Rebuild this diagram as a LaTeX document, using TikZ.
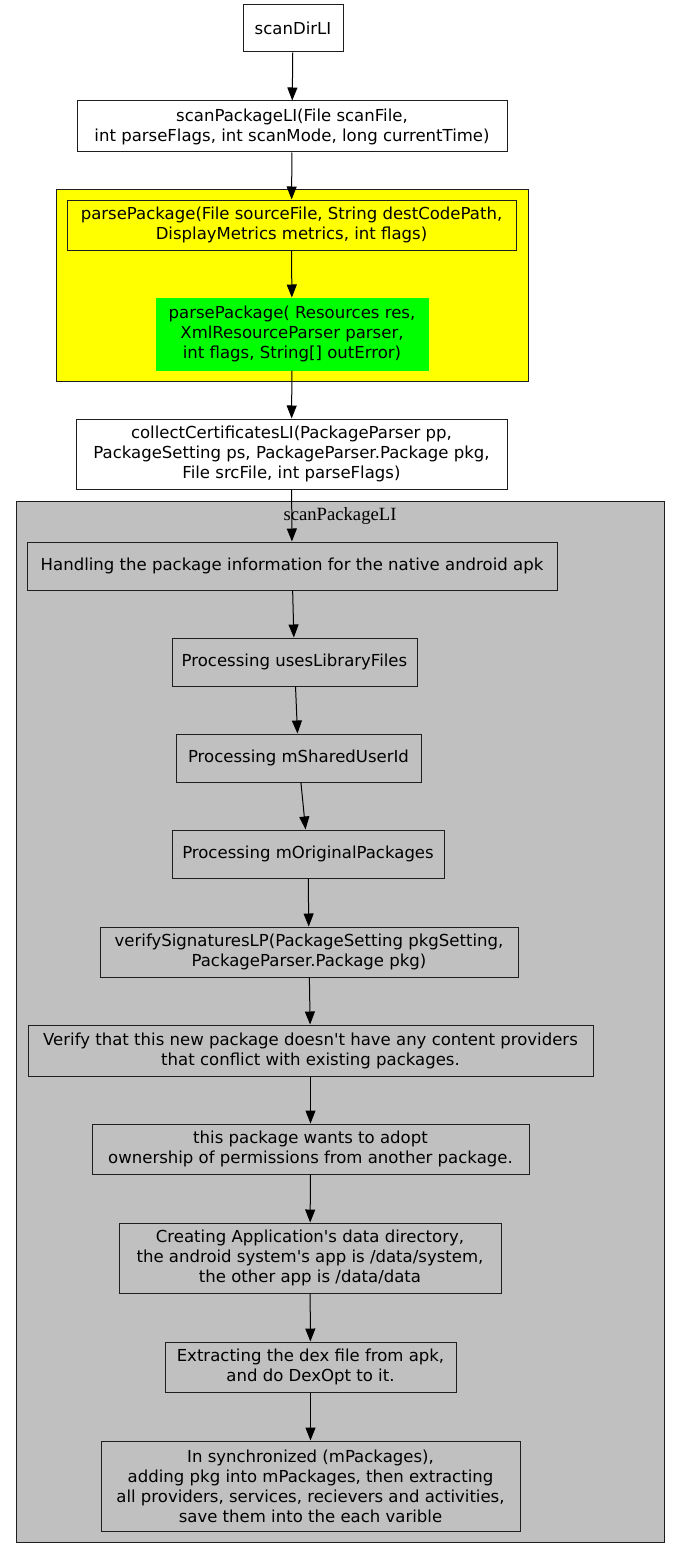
\documentclass[tikz,border=0pt]{standalone}
\usepackage{fontspec}
\setmainfont{DejaVu Sans}[Ligatures=TeXOff]
\newfontfamily\clusterfont{Liberation Serif}
\usetikzlibrary{arrows.meta}
\definecolor{yellow1}	{RGB}{255,255,0}
\definecolor{green1}	{RGB}{0,255,0}
\definecolor{grey1}		{RGB}{192,192,192}
\definecolor{line1}		{RGB}{30,30,30}
\tikzstyle{call}=	[draw=line1, line width=0.75pt, align=center, inner sep=0pt, font=\fontsize{12.4}{15}\selectfont]
\tikzstyle{cwhite}=	[call, fill=white]
\tikzstyle{cyellow}=	[call, fill=yellow1]
\tikzstyle{cgreen}=	[call, fill=green1, draw=green1]
\tikzstyle{cgrey}=	[call, fill=grey1]
\tikzstyle{cluster}=	[draw=line1, line width=0.75pt]
\tikzstyle{flow}=	[draw=black, line width=0.75pt, -{Triangle[length=9.75pt,width=7.5pt]}]

\begin{document}
\begin{tikzpicture}[x=0.75pt, y=-0.75pt]

	\useasboundingbox (0,0) rectangle (680,1559);

	%%% clusters
	\draw[cluster, fill=yellow1] (56,189) rectangle (528,381);
	\draw[cluster, fill=grey1] (16,501) rectangle (664,1542);
	\node[font=\clusterfont\fontsize{14}{16}\selectfont] (cl) at (340,516) {scanPackageLI};

	%%% top calls
	% nodes
	\node[cwhite, minimum width=75pt, minimum height=35.25pt] (dir) at (293,28.5) {scanDirLI};

	\node[cwhite, minimum width=322.5pt, minimum height=38.25pt] (spkg) at (292,126.5)
		{scanPackageLI(File scanFile,\\ int parseFlags, int scanMode, long currentTime)};

	\node[cyellow, minimum width=336.75pt, minimum height=37.5pt] (pp1) at (291.5,225)
		{parsePackage(File sourceFile, String destCodePath,\\ DisplayMetrics metrics, int flags)};

	\node[cgreen, minimum width=204pt, minimum height=54pt] (pp2) at (292,334)
		{parsePackage( Resources res,\\ XmlResourceParser parser,\\ int flags, String[] outError)};

	\node[cwhite, minimum width=323.25pt, minimum height=52.5pt] (cert) at (291.5,454)
		{collectCertificatesLI(PackageParser pp,\\ PackageSetting ps, PackageParser.Package pkg,\\ File srcFile, int parseFlags)};

	%%% scanPackageLI steps
	% nodes
	\node[cgrey, minimum width=397.5pt, minimum height=36pt] (hand) at (292,566)
		{Handling the package information for the native android apk};

	\node[cgrey, minimum width=183.75pt, minimum height=36pt] (lib) at (294.5,662)
		{Processing usesLibraryFiles};

	\node[cgrey, minimum width=183.75pt, minimum height=36pt] (uid) at (298.5,758)
		{Processing mSharedUserId};

	\node[cgrey, minimum width=204pt, minimum height=36pt] (orig) at (308,854)
		{Processing mOriginalPackages};

	\node[cgrey, minimum width=313.5pt, minimum height=37.5pt] (sig) at (309,952)
		{verifySignaturesLP(PackageSetting pkgSetting,\\ PackageParser.Package pkg)};

	\node[cgrey, minimum width=423.75pt, minimum height=38.25pt] (prov) at (310.5,1050.5)
		{Verify that this new package doesn't have any content providers\\ that conflict with existing packages.};

	\node[cgrey, minimum width=327.75pt, minimum height=37.5pt] (perm) at (310.5,1149)
		{this package wants to adopt\\ ownership of permissions from another package.};

	\node[cgrey, minimum width=286.5pt, minimum height=52.5pt] (data) at (310,1258)
		{Creating Application's data directory,\\ the android system's app is /data/system,\\ the other app is /data/data};

	\node[cgrey, minimum width=218.25pt, minimum height=37.5pt] (dex) at (310.5,1367)
		{Extracting the dex file from apk,\\ and do DexOpt to it.};

	\node[cgrey, minimum width=314.25pt, minimum height=67.5pt] (sync) at (310.5,1486)
		{In synchronized (mPackages),\\ adding pkg into mPackages, then extracting\\ all providers, services, recievers and activities,\\ save them into the each varible};

	% flow
	\draw[flow] (dir) -- (spkg);
	\draw[flow] (spkg) -- (pp1);
	\draw[flow] (pp1) -- (pp2);
	\draw[flow] (pp2) -- (cert);
	\draw[flow] (cert) -- (hand);
	\draw[flow] (hand) -- (lib);
	\draw[flow] (lib) -- (uid);
	\draw[flow] (uid) -- (orig);
	\draw[flow] (orig) -- (sig);
	\draw[flow] (sig) -- (prov);
	\draw[flow] (prov) -- (perm);
	\draw[flow] (perm) -- (data);
	\draw[flow] (data) -- (dex);
	\draw[flow] (dex) -- (sync);

\end{tikzpicture}
\end{document}
